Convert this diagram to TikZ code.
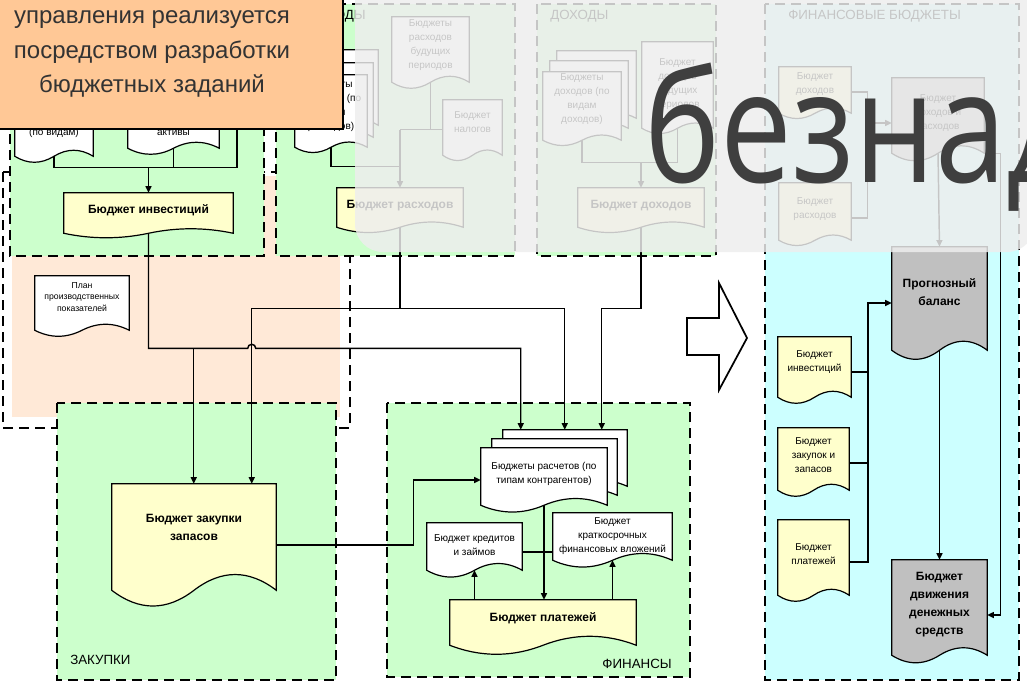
\documentclass[tikz,border=0pt]{standalone}
\usepackage{fontspec}
\setmainfont{Liberation Sans}
\newfontfamily\wmfont{Open Sans}
\usetikzlibrary{calc,arrows.meta}
\pgfdeclarelayer{bg}\pgfdeclarelayer{docs}\pgfdeclarelayer{fg}
\pgfsetlayers{bg,docs,main,fg}
\definecolor{grn}{HTML}{CCFFCC}
\definecolor{cyn}{HTML}{CCFFFF}
\definecolor{peach}{HTML}{FFE9D7}
\definecolor{docyel}{HTML}{FFFFCC}
\definecolor{docgray}{HTML}{C0C0C0}
\definecolor{orng}{HTML}{FFC896}
\definecolor{ovl}{HTML}{EEEEEE}
\definecolor{wmgray}{HTML}{3F3F3F}
\definecolor{txtdark}{HTML}{333333}
\newcommand\dnode[7][]{\node[docnode,#1,minimum width={(#5-#3)*0.75pt},minimum height={(#6-#4)*0.75pt}] (#2) at ({(#3+#5)/2},{(#4+#6)/2}) {#7};}
\newcommand\docpath[4][]{%
 \coordinate (dpR) at ($(#2.south east)+(0,#3)$);
 \coordinate (dpL) at ($(#2.south west)+(0,#3)$);
 \coordinate (dpM) at ($(dpR)!0.5!(dpL)$);
 \path[docsh,#1] (#2.north west) -- (#2.north east) -- (dpR)
   .. controls ($(dpR)!0.333!(dpM)+(0,-#4)$) and ($(dpR)!0.667!(dpM)+(0,-#4)$) .. (dpM)
   .. controls ($(dpM)!0.333!(dpL)+(0,#4)$) and ($(dpM)!0.667!(dpL)+(0,#4)$) .. (dpL) -- cycle;}
\tikzset{
 docnode/.style={rectangle, draw=none, inner sep=0pt, align=center, font=\fontsize{7.5}{10.5}\selectfont},
 bigtxt/.style={font=\bfseries\fontsize{9}{13.5}\selectfont},
 plantxt/.style={font=\fontsize{6.5}{8.5}\selectfont},
 docsh/.style={draw=black, line width=0.9pt, fill=white},
 yel/.style={fill=docyel},
 gry/.style={fill=docgray},
 cont/.style={draw=black, line width=1.4pt, dash pattern=on 7.5pt off 4.5pt},
 conn/.style={draw=black, line width=1.1pt},
 arr/.style={conn, -{Triangle[length=5pt,width=4.5pt]}},
 lbl/.style={font=\fontsize{10}{11}\selectfont, inner sep=0pt},
}
\begin{document}
\begin{tikzpicture}[x=0.75pt,y=-0.75pt]
\useasboundingbox (0,0) rectangle (1027,689);
\begin{pgfonlayer}{bg}
 \fill[white] (0,0) rectangle (1027,689);
 \fill[peach] (12,176) rectangle (340,417);
 \draw[cont] (3,172) rectangle (350,428);
 \filldraw[cont,fill=grn] (10,-10) rectangle (264,256);
 \filldraw[cont,fill=grn] (276,4) rectangle (515,256);
 \filldraw[cont,fill=grn] (537,4) rectangle (716,256);
 \filldraw[cont,fill=cyn] (765,4) rectangle (1019,680);
 \filldraw[cont,fill=grn] (57,403) rectangle (336,680);
 \filldraw[cont,fill=grn] (387,403) rectangle (690,677);
\end{pgfonlayer}
% container labels
\node[lbl,anchor=east] (lrash) at (366,16) {РАСХОДЫ};
\node[lbl,anchor=west] (ldoh) at (550,16) {ДОХОДЫ};
\node[lbl,anchor=west] (lfb) at (788,16) {ФИНАНСОВЫЕ БЮДЖЕТЫ};
\node[lbl,anchor=west] (lzak) at (70,660) {ЗАКУПКИ};
\node[lbl,anchor=east] (lfin) at (672,664) {ФИНАНСЫ};
% documents: investments
\dnode{inv1}{15}{110}{93}{156}{(по видам)}
\dnode{inv2}{128}{118}{219}{148}{активы}
\dnode[bigtxt]{invb}{64}{193}{233}{228}{Бюджет инвестиций}
\dnode[plantxt]{plan}{35}{276}{129}{318}{План\\производственных\\показателей}
% expenses
\dnode{rs3}{309}{50}{378}{125}{}
\dnode{rs2}{302}{63}{373}{137}{}
\dnode{rs1}{295}{75}{367}{138}{Бюджеты\\расходов (по\\видам\\расходов)}
\dnode{fut}{392}{17}{469}{73}{Бюджеты\\расходов\\будущих\\периодов}
\dnode{tax}{443}{100}{502}{144}{Бюджет\\налогов}
\dnode[bigtxt]{rexp}{337}{188}{463}{224}{Бюджет расходов}
% incomes
\dnode{ds3}{557}{51}{636}{118}{}
\dnode{ds2}{550}{61}{628}{128}{}
\dnode{ds1}{543}{72}{621}{126}{Бюджеты\\доходов (по\\видам\\доходов)}
\dnode{dfut}{642}{42}{713}{126}{Бюджет\\доходов\\будущих\\периодов}
\dnode[bigtxt]{rinc}{578}{188}{704}{224}{Бюджет доходов}
% financial budgets
\dnode{fdoh}{779}{67}{851}{101}{Бюджет\\доходов}
\dnode{fras}{779}{183}{851}{235}{Бюджет\\расходов}
\dnode{bdr}{892}{78}{984}{148}{Бюджет\\доходов и\\расходов}
\dnode[bigtxt]{prog}{892}{247}{987}{337}{Прогнозный\\баланс}
\dnode[bigtxt]{bdds}{892}{560}{987}{650}{Бюджет\\движения\\денежных\\средств}
\dnode{yinv}{778}{337}{851}{387}{Бюджет\\инвестиций}
\dnode{yzak}{778}{428}{849}{482}{Бюджет\\закупок и\\запасов}
\dnode{ypay}{778}{520}{849}{588}{Бюджет\\платежей}
% purchases
\dnode[bigtxt]{zak}{112}{484}{276}{570}{Бюджет закупки\\запасов}
% finance
\dnode{rb}{503}{430}{627}{486}{}
\dnode{rm}{492}{439}{617}{495}{}
\dnode{rf}{481}{448}{607}{500}{Бюджеты расчетов (по\\типам контрагентов)}
\dnode{cred}{427}{523}{522}{567}{Бюджет кредитов\\и займов}
\dnode{short}{553}{513}{672}{559}{Бюджет\\краткосрочных\\финансовых вложений}
\dnode[bigtxt]{pay}{450}{600}{636}{636}{Бюджет платежей}

\begin{pgfonlayer}{docs}
 \docpath{inv1}{0}{8}
 \docpath{inv2}{0}{8}
 \docpath[yel]{invb}{5}{6}
 \docpath{plan}{12}{8}
 \docpath{rs3}{0}{7}
 \docpath{rs2}{0}{7}
 \docpath{rs1}{9}{7}
 \docpath{fut}{9}{8}
 \docpath{tax}{11}{7}
 \docpath[yel]{rexp}{3}{7}
 \docpath{ds3}{0}{7}
 \docpath{ds2}{0}{7}
 \docpath{ds1}{14}{7}
 \docpath{dfut}{2}{7}
 \docpath[yel]{rinc}{3}{7}
 \docpath[yel]{fdoh}{12}{7}
 \docpath[yel]{fras}{5}{7}
 \docpath[gry]{bdr}{5}{10}
 \docpath[gry]{prog}{13}{12}
 \docpath[gry]{bdds}{5}{10}
 \docpath[yel]{yinv}{10}{8}
 \docpath[yel]{yzak}{8}{8}
 \docpath[yel]{ypay}{7}{8}
 \docpath[yel]{zak}{20}{21}
 \docpath{rb}{0}{9}
 \docpath{rm}{0}{9}
 \docpath{rf}{5}{9}
 \docpath{cred}{3}{9}
 \docpath{short}{1}{9}
 \docpath[yel]{pay}{9}{12}
\end{pgfonlayer}

% connectors: investments
\coordinate (ibus0) at ($(invb.north)+(0,-25)$);
\coordinate (invsrc) at (237,120);
\draw[conn] (inv1.south) |- (invsrc |- ibus0) -- (invsrc);
\draw[conn] (inv2.south) -- (inv2.south |- ibus0);
\draw[arr] (ibus0) -- (invb.north);
% expenses
\coordinate (rtop) at ($(rexp.north)+(0,-58)$);
\coordinate (rbus) at ($(rexp.north)+(0,-21)$);
\draw[conn] ($(fut.south)+(0,9)$) |- (rtop) -- (rtop -| tax.west);
\draw[conn] ($(rs1.south)+(0,9)$) |- (rbus);
\draw[arr] (rtop) -- (rexp.north);
% incomes
\coordinate (dbus) at ($(rinc.north)+(0,-25)$);
\draw[conn] ($(ds1.south)+(0,14)$) |- (dbus) -| ($(dfut.south)+(0,2)$);
\draw[arr] (dbus) -- (rinc.north);
% to purchases and settlements
\coordinate (zk1) at ($(zak.north west)+(82,0)$);
\coordinate (zk2) at ($(zak.north west)+(140,0)$);
\coordinate (rb1) at ($(rb.north west)+(18,0)$);
\coordinate (rb2) at ($(rb.north west)+(62,0)$);
\coordinate (rb3) at ($(rb.north west)+(99,0)$);
\coordinate (ibus) at ($(invb.south)+(0,120)$);
\draw[arr] ($(invb.south)+(0,5)$) -- (ibus) -- ($(ibus -| zk2)+(-4,0)$) arc[start angle=180,end angle=0,radius=3pt] -| (rb1);
\draw[arr] (ibus -| zk1) -- (zk1);
\coordinate (rj) at ($(rexp.south)+(0,84)$);
\draw[arr] ($(rexp.south)+(0,3)$) -- (rj) -| (zk2);
\draw[arr] (rj) -| (rb2);
\draw[arr] ($(rinc.south)+(0,3)$) -- ++(0,81) -| (rb3);
\draw[arr] ($(zak.east)+(0,18)$) -- ++(137,0) |- ($(rf.west)+(0,6)$);
% finance
\draw[arr] ($(rf.south)+(0,5)$) -- (rf.south |- pay.north);
\draw[conn] ($(cred.east)+(0,7)$) coordinate (cw) -- (cw -| short.west);
\draw[arr] (pay.north -| cred.south) -- ($(cred.south)+(0,3)$);
\draw[arr] (pay.north -| short.south) -- ($(short.south)+(0,1)$);
% financial budgets
\coordinate (bdrin) at ($(bdr.west)+(0,10)$);
\draw[conn] ($(fdoh.east)+(0,8)$) -- ++(16,0) coordinate (fb1) |- ($(fras.east)+(0,9)$);
\draw[arr] (fb1 |- bdrin) -- (bdrin);
\draw[arr] ($(bdr.south)+(0,5)$) -- (prog.north);
\draw[arr] ($(bdr.south east)+(0,5)$) -- ++(16,0) |- ($(bdds.east)+(0,10)$);
\coordinate (pin) at ($(prog.west)+(0,11)$);
\coordinate (pbus) at (868,0);
\draw[conn] ($(yinv.east)+(0,10)$) coordinate (yi) -- (yi -| pbus);
\draw[conn] ($(yzak.east)+(0,8)$) coordinate (yz) -- (yz -| pbus);
\draw[arr] ($(ypay.east)+(0,8)$) -| (pin -| pbus) -- (pin);
\draw[arr] ($(prog.south)+(0,13)$) -- (bdds.north);
% big hollow arrow
\draw[line width=1.3pt, fill=white] (687,318) -- (719,318) -- (719,283) -- (747,338) -- (719,390) -- (719,355) -- (687,355) -- cycle;

\begin{pgfonlayer}{fg}
 \fill[ovl, opacity=0.83] (1035,-5) -- (355,-5) [rounded corners=21pt] -- (355,252) -- (1035,252) [sharp corners] -- cycle;
 \node[anchor=base west, font=\wmfont\fontsize{117}{117}\selectfont, text=wmgray, xscale=0.82, inner sep=0pt] (wm) at (644,182) {безнад};
 \filldraw[fill=orng, draw=black, line width=1pt] (-5,-50) rectangle (343,129);
 \node[font=\fontsize{18}{26}\selectfont, text=txtdark, align=center, inner sep=0pt] (notetxt) at (152,54) {управления реализуется\\посредством разработки\\бюджетных заданий};
\end{pgfonlayer}
\end{tikzpicture}
\end{document}
